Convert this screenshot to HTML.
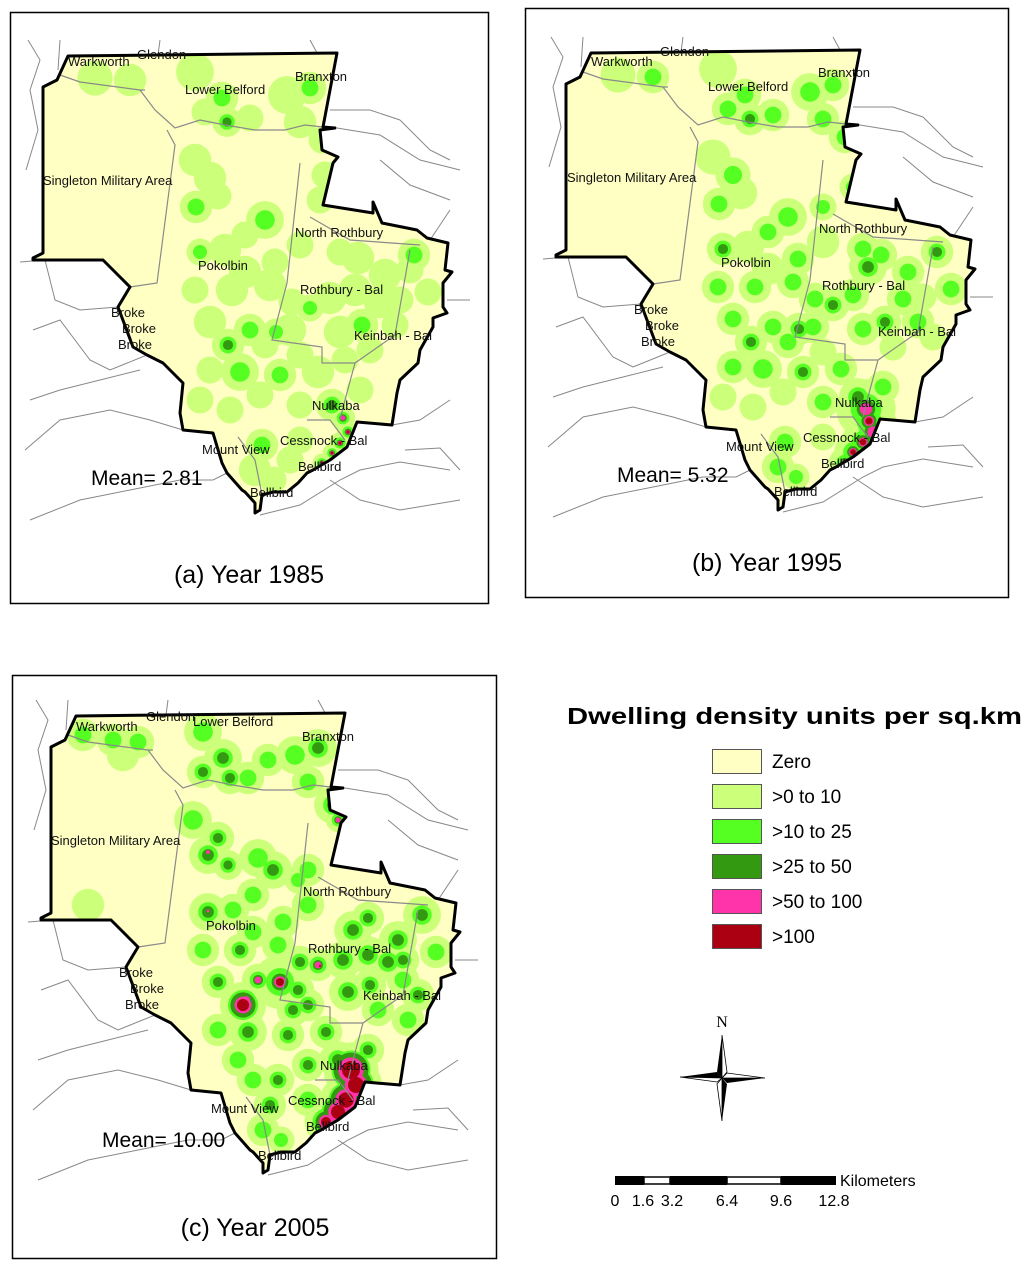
<!DOCTYPE html>
<html><head><meta charset="utf-8"><style>
html,body{margin:0;padding:0;background:#fff;}
body{width:1024px;height:1267px;overflow:hidden;font-family:"Liberation Sans",Arial,sans-serif;}
svg text{font-family:"Liberation Sans",Arial,sans-serif;}
</style></head><body>
<svg id="fig" width="1024" height="1267" viewBox="0 0 1024 1267" xmlns="http://www.w3.org/2000/svg">
<rect x="10.5" y="12.5" width="478" height="591" fill="#fff" stroke="#000" stroke-width="1.5"/>
<rect x="525.5" y="8.5" width="483" height="589" fill="#fff" stroke="#000" stroke-width="1.5"/>
<rect x="12.5" y="675.5" width="484" height="583" fill="#fff" stroke="#000" stroke-width="1.5"/>
<g id="pa"></g>
<g id="pb"></g>
<g id="pc"></g>
<text x="249" y="583" font-size="25" text-anchor="middle">(a) Year 1985</text>
<text x="767" y="571" font-size="25" text-anchor="middle">(b) Year 1995</text>
<text x="255" y="1236" font-size="25" text-anchor="middle">(c) Year 2005</text>
<text x="91" y="485" font-size="21">Mean= 2.81</text>
<text x="617" y="482" font-size="21">Mean= 5.32</text>
<text x="102" y="1147" font-size="21">Mean= 10.00</text>
<g>
<text x="567" y="724" font-size="23" font-weight="bold" textLength="455" lengthAdjust="spacingAndGlyphs">Dwelling density units per sq.km</text>
<g id="legitems"></g>
</g>
<g>
<text x="722" y="1027" font-size="16" text-anchor="middle" style="font-family:'Liberation Serif',serif">N</text>
<polygon points="722,1035 727,1072 722,1078" fill="#fff" stroke="#000" stroke-width="0.8"/>
<polygon points="722,1035 717,1072 722,1078" fill="#000"/>
<polygon points="722,1121 717,1084 722,1078" fill="#fff" stroke="#000" stroke-width="0.8"/>
<polygon points="722,1121 727,1084 722,1078" fill="#000"/>
<polygon points="680,1077 717,1072 722,1078" fill="#000"/>
<polygon points="680,1077 717,1082 722,1078" fill="#fff" stroke="#000" stroke-width="0.8"/>
<polygon points="765,1078 727,1083 722,1078" fill="#000"/>
<polygon points="765,1078 727,1073 722,1078" fill="#fff" stroke="#000" stroke-width="0.8"/>
</g>
<g>
<rect x="615" y="1176" width="29" height="9" fill="#000"/>
<rect x="644" y="1177" width="26" height="7" fill="#fff" stroke="#000" stroke-width="1.5"/>
<rect x="670" y="1176" width="57" height="9" fill="#000"/>
<rect x="727" y="1177" width="54" height="7" fill="#fff" stroke="#000" stroke-width="1.5"/>
<rect x="781" y="1176" width="55" height="9" fill="#000"/>
<text x="840" y="1186" font-size="16">Kilometers</text>
<text x="615" y="1206" font-size="16" text-anchor="middle">0</text>
<text x="643" y="1206" font-size="16" text-anchor="middle">1.6</text>
<text x="672" y="1206" font-size="16" text-anchor="middle">3.2</text>
<text x="727" y="1206" font-size="16" text-anchor="middle">6.4</text>
<text x="781" y="1206" font-size="16" text-anchor="middle">9.6</text>
<text x="834" y="1206" font-size="16" text-anchor="middle">12.8</text>
</g>
</svg>
<script>
const NS="http://www.w3.org/2000/svg";
const colors=["#ffffc4","#ccff7a","#55ff22","#339911","#ff33aa","#aa0011"];
const legendLabels=["Zero",">0 to 10",">10 to 25",">25 to 50",">50 to 100",">100"];
const shape=[[68,56],[337,53],[323,127],[335,128],[320,130],[322,150],[338,157],[333,163],[323,205],[373,213],[373,202],[382,223],[417,230],[427,238],[448,243],[445,270],[452,272],[443,283],[443,307],[447,313],[433,318],[433,327],[420,350],[418,363],[400,380],[397,393],[392,425],[357,422],[347,447],[330,460],[313,470],[307,473],[298,483],[287,492],[273,492],[262,495],[260,510],[255,513],[255,503],[245,492],[242,490],[227,473],[222,463],[213,433],[183,430],[180,413],[183,383],[163,363],[147,355],[133,347],[118,307],[130,287],[120,277],[103,260],[33,260],[33,258],[43,253],[43,87],[57,80]];
const innerLines=[
[[60,75],[80,82],[140,90],[145,90]],
[[140,90],[155,110],[175,128],[200,120],[225,125],[255,130],[285,130],[305,125],[323,127]],
[[167,130],[175,145],[157,283],[130,287]],
[[300,163],[287,283],[272,340],[322,347],[322,363],[355,363],[395,335],[410,250]],
[[310,217],[350,240],[420,245]],
[[238,437],[255,460],[262,495]],
[[307,420],[330,420],[345,440]],
[[355,363],[345,400],[340,420]]];
const outerLines=[
[[28,40],[40,60],[30,90],[38,130],[26,170]],
[[60,40],[58,70]],[[160,40],[158,55]],[[310,40],[322,62]],
[[337,128],[380,135],[420,160],[460,170]],
[[330,110],[370,110],[400,120]],
[[380,160],[410,185],[450,200]],
[[400,120],[430,150],[450,160]],
[[450,210],[430,240]],
[[20,262],[45,260],[55,300],[80,310],[118,307]],
[[33,330],[60,320],[90,360],[110,370],[147,355]],
[[30,400],[60,390],[100,380],[140,370]],
[[25,450],[60,420],[110,410],[150,420],[183,430]],
[[30,520],[80,500],[130,490],[180,480],[213,480],[227,473]],
[[260,515],[300,505],[340,480],[360,470],[400,462],[450,470]],
[[330,480],[360,500],[400,510],[460,500]],
[[392,425],[420,420],[450,400]],
[[405,450],[440,448],[460,470]],
[[447,300],[470,300]]];
// blobs: [x, y, radius, level] in panel-a coordinates
const blobsA=[[95,78,13,1],[130,80,12,1],[195,72,14,1],[222,98,12,2],[227,122,11,3],[205,112,10,1],[250,118,10,1],[287,95,14,1],[310,88,12,2],[300,122,12,1],[322,140,10,1],[195,160,12,1],[210,178,12,1],[196,207,12,2],[218,196,10,1],[265,220,14,2],[245,235,10,1],[200,252,10,2],[225,250,12,1],[275,262,10,1],[245,272,12,1],[195,290,10,1],[232,290,12,1],[270,285,12,1],[292,302,10,1],[310,308,10,2],[330,298,12,1],[355,290,12,1],[385,275,12,1],[414,255,12,2],[428,292,10,1],[380,302,12,1],[358,258,12,1],[340,252,10,1],[300,245,10,1],[210,322,12,1],[250,330,12,2],[290,330,12,1],[228,345,12,3],[265,345,10,1],[276,332,10,2],[340,332,12,1],[362,325,12,2],[395,325,10,1],[240,372,14,2],[210,370,10,1],[280,375,12,2],[318,372,12,1],[360,390,10,1],[300,405,10,1],[332,405,12,3],[343,418,9,4],[348,432,8,5],[340,443,8,5],[332,453,7,5],[322,463,7,5],[262,445,12,2],[255,470,12,1],[273,480,10,1],[320,200,10,1],[325,175,10,1],[400,300,10,1],[410,270,10,1],[370,350,10,1],[345,360,10,1],[300,440,10,1],[290,460,10,1],[230,410,10,1],[200,400,10,1],[260,395,10,1],[300,355,10,1]];
const blobsB=[[95,78,13,1],[130,80,12,2],[195,72,14,1],[222,98,12,2],[227,122,12,3],[205,112,12,2],[250,118,12,2],[287,95,14,2],[310,88,12,2],[300,122,12,2],[322,140,12,2],[190,160,13,1],[210,178,13,2],[196,207,12,2],[218,196,12,1],[265,220,14,2],[245,235,12,2],[200,252,12,3],[225,250,12,1],[275,262,12,2],[245,272,12,1],[195,290,12,2],[232,290,12,2],[270,285,12,2],[292,302,12,2],[310,308,12,3],[330,298,12,2],[345,270,14,3],[385,275,12,2],[414,255,12,3],[428,292,12,2],[380,302,12,2],[358,258,12,2],[340,252,12,2],[300,245,12,1],[210,322,12,2],[250,330,12,2],[290,330,12,2],[228,345,12,3],[265,345,12,2],[276,332,12,3],[340,332,12,2],[362,325,12,3],[395,325,12,2],[240,372,14,2],[210,370,12,2],[280,375,12,3],[318,372,12,2],[360,390,12,2],[300,405,12,2],[335,400,14,3],[343,412,22,4],[346,424,18,5],[350,435,20,4],[340,445,16,5],[330,455,14,5],[322,466,12,5],[262,445,12,2],[255,470,12,2],[273,480,10,2],[300,210,10,2],[330,190,10,2],[400,300,10,1],[410,340,10,1],[370,350,10,1],[230,410,10,1],[200,400,10,1],[260,395,10,1],[300,355,10,1],[300,440,10,1]];
const blobsC=[[75,75,12,2],[105,80,12,2],[130,82,12,2],[80,245,12,1],[115,95,12,1],[195,72,14,2],[215,98,14,3],[222,118,12,3],[195,112,12,3],[240,118,12,2],[260,100,12,2],[287,95,14,2],[310,88,14,3],[300,122,12,2],[325,145,14,3],[323,143,6,4],[330,160,9,4],[185,160,14,2],[200,195,14,3],[200,192,7,4],[210,178,12,3],[220,205,11,3],[250,198,14,2],[265,210,14,3],[245,235,12,2],[290,220,10,2],[300,210,12,2],[200,252,14,3],[200,251,5,4],[225,250,12,2],[275,262,12,2],[245,272,12,2],[195,290,12,2],[232,290,12,3],[270,285,12,2],[292,302,12,3],[310,305,12,4],[312,306,5,5],[335,300,14,3],[360,295,14,3],[390,280,14,3],[414,255,14,3],[428,292,12,2],[380,302,14,3],[345,270,14,3],[360,258,12,3],[395,300,12,3],[410,335,12,3],[300,245,12,2],[210,322,12,3],[238,340,14,4],[235,345,30,5],[250,320,12,4],[270,322,14,4],[272,322,20,5],[290,330,12,3],[285,350,12,3],[300,345,12,3],[340,332,14,3],[362,325,12,3],[395,320,12,2],[240,372,14,3],[210,370,12,2],[280,375,12,3],[318,372,12,3],[360,390,12,3],[300,405,12,3],[330,400,14,3],[343,410,45,5],[348,425,40,5],[338,440,38,5],[330,452,35,5],[318,462,25,5],[262,445,12,3],[255,470,12,2],[273,480,10,2],[245,420,12,2],[270,420,12,3],[400,360,12,2],[370,350,12,2],[300,440,12,2],[230,400,12,2]];
const panels=[
 {id:"pa",dx:0,dy:0,blobs:blobsA,labels:[["Warkworth",68,66],["Glendon",137,59],["Lower Belford",185,94],["Branxton",295,81],["Singleton Military Area",43,185],["North Rothbury",295,237],["Pokolbin",198,270],["Rothbury - Bal",300,294],["Broke",111,317],["Broke",122,333],["Broke",118,349],["Keinbah - Bal",354,340],["Nulkaba",312,410],["Cessnock - Bal",280,445],["Mount View",202,454],["Bellbird",298,471],["Bellbird",250,497]]},
 {id:"pb",dx:523,dy:-3,blobs:blobsB,labels:[["Warkworth",591,66],["Glendon",660,56],["Lower Belford",708,91],["Branxton",818,77],["Singleton Military Area",567,182],["North Rothbury",819,233],["Pokolbin",721,267],["Rothbury - Bal",822,290],["Broke",634,314],["Broke",645,330],["Broke",641,346],["Keinbah - Bal",878,336],["Nulkaba",835,407],["Cessnock - Bal",803,442],["Mount View",726,451],["Bellbird",821,468],["Bellbird",774,496]]},
 {id:"pc",dx:8,dy:660,blobs:blobsC,labels:[["Warkworth",76,731],["Glendon",146,721],["Lower Belford",193,726],["Branxton",302,741],["Singleton Military Area",51,845],["North Rothbury",303,896],["Pokolbin",206,930],["Rothbury - Bal",308,953],["Broke",119,977],["Broke",130,993],["Broke",125,1009],["Keinbah - Bal",363,1000],["Nulkaba",320,1070],["Cessnock - Bal",288,1105],["Mount View",211,1113],["Bellbird",306,1131],["Bellbird",258,1160]]}
];
function mk(tag,attrs,parent){const e=document.createElementNS(NS,tag);for(const k in attrs)e.setAttribute(k,attrs[k]);parent.appendChild(e);return e;}
const radFactor=[1.35,0.7,0.42,0.28,0.2];
panels.forEach((p,pi)=>{
 const g=document.getElementById(p.id);
 const tr=mk("g",{transform:`translate(${p.dx},${p.dy})`},g);
 const defs=mk("defs",{},tr);
 const cp=mk("clipPath",{id:"clip"+pi},defs);
 const ptsStr=shape.map(q=>q.join(",")).join(" ");
 mk("polygon",{points:ptsStr},cp);
 outerLines.forEach(l=>{const e=mk("polyline",{points:l.map(q=>q.join(",")).join(" "),fill:"none",stroke:"#888","stroke-width":"1"},tr);
  
  });
 const base=mk("polygon",{points:ptsStr,fill:colors[0]},tr);
 
 
 const bg=mk("g",{"clip-path":`url(#clip${pi})`},tr);
 for(let lev=1;lev<=5;lev++){
  p.blobs.forEach(b=>{if(b[3]>=lev){
   const rr=(b[3]===5&&b[2]>20)?Math.min(b[2]*radFactor[lev-1],b[2]*0.3+2*(5-lev)+ (lev===1?6:0)):b[2]*radFactor[lev-1];
   const c=mk("circle",{cx:b[0],cy:b[1],r:rr,fill:colors[lev]},bg);
   
   }});
 }
 innerLines.forEach(l=>{const e=mk("polyline",{points:l.map(q=>q.join(",")).join(" "),fill:"none",stroke:"#8a8a8a","stroke-width":"1.2"},tr);
  
  });
 const ol=mk("polygon",{points:ptsStr,fill:"none",stroke:"#000","stroke-width":"3","stroke-linejoin":"round"},tr);
 
 
 p.labels.forEach(l=>{const t=mk("text",{x:l[1],y:l[2],"font-size":"13",fill:"#111"},g);t.textContent=l[0];
  
  });
});
const lg=document.getElementById("legitems");
legendLabels.forEach((lab,i)=>{
 const y=749+i*35;
 const r=mk("rect",{x:712.5,y:y+0.5,width:49,height:24,fill:colors[i],stroke:"#555","stroke-width":"1"},lg);
 
 
 const t=mk("text",{x:772,y:y+19,"font-size":"19"},lg);t.textContent=lab;
 
 
});
</script>
</body></html>
